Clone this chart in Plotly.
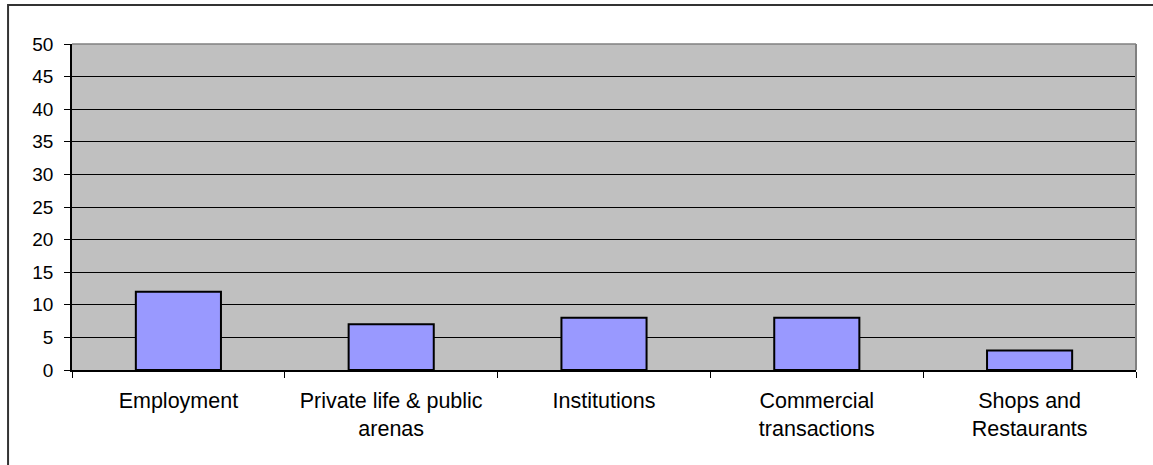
import plotly.graph_objects as go

categories = ["Employment", "Private life & public<br>arenas", "Institutions",
              "Commercial<br>transactions", "Shops and<br>Restaurants"]
values = [12, 7, 8, 8, 3]
y_ticks = [0, 5, 10, 15, 20, 25, 30, 35, 40, 45, 50]

fig = go.Figure()
fig.add_trace(go.Bar(
    x=categories, y=values, width=0.4,
    marker=dict(color="#9999FF", line=dict(color="black", width=2)),
    hoverinfo="x+y",
))

fam = "Liberation Sans, Arial, sans-serif"
xfont = dict(family=fam, size=21.5, color="black")
yfont = dict(family=fam, size=19, color="black")

fig.update_layout(
    width=1153, height=465,
    margin=dict(l=72, r=17, t=44, b=95),
    paper_bgcolor="white", plot_bgcolor="#C0C0C0",
    font=yfont, showlegend=False, bargap=0.6,
    xaxis=dict(type="category", tickson="boundaries", ticks="outside", ticklen=6,
               tickcolor="black", tickwidth=1, showline=True, linecolor="black",
               linewidth=1.5, showgrid=False, tickfont=xfont, ticklabelstandoff=10),
    yaxis=dict(range=[0, 50], tickvals=y_ticks, ticks="outside", ticklen=6,
               tickcolor="black", tickwidth=1, showline=True, linecolor="black",
               linewidth=1.5, showgrid=True, gridcolor="black", gridwidth=1,
               zeroline=False, tickfont=yfont, ticklabelstandoff=7),
    shapes=[
        dict(type="line", xref="paper", yref="paper", x0=0, x1=1, y0=1, y1=1,
             line=dict(color="#808080", width=1.5), layer="above"),
        dict(type="line", xref="paper", yref="paper", x0=1, x1=1, y0=0, y1=1,
             line=dict(color="#808080", width=2), layer="above"),
        dict(type="rect", xref="paper", yref="paper", x0=-0.0601, x1=1.03,
             y0=-0.5, y1=1.1196, line=dict(color="#333333", width=2),
             fillcolor="rgba(0,0,0,0)", layer="below"),
    ],
)

fig.write_html("out.html", config={"displayModeBar": False},
               post_script="document.body.style.margin='0';")
